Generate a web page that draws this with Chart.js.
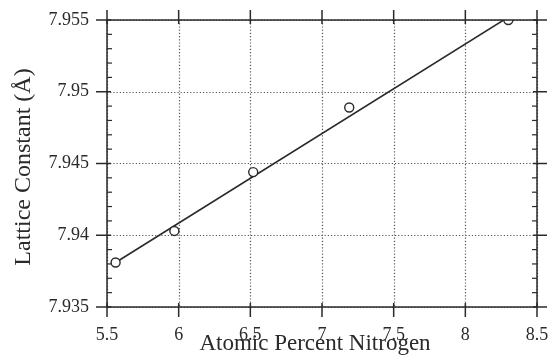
<!DOCTYPE html>
<html>
<head>
<meta charset="utf-8">
<script src="https://cdn.jsdelivr.net/npm/chart.js@4.4.1/dist/chart.umd.min.js"></script>
<style>
  html, body { margin: 0; padding: 0; background: #ffffff; }
  #wrap { width: 549px; height: 358px; }
</style>
</head>
<body>
<div id="wrap"><canvas id="c" width="549" height="358"></canvas></div>
<script>
// Measured lattice constants vs nitrogen content
const nitrogenPct = [5.56, 5.97, 6.52, 7.19, 8.30];
const latticeConst = [7.9381, 7.9403, 7.9444, 7.9489, 7.9550];

// Linear fit through the measurements
const fitX = [5.56, 8.30];
const fitY = [7.9381, 7.9552];

// Axis ranges and tick spacing
const xTicks = [5.5, 6, 6.5, 7, 7.5, 8, 8.5];
const yTicks = [7.935, 7.94, 7.945, 7.95, 7.955];
const yMinorStep = 0.001;

const xTitle = 'Atomic Percent Nitrogen';
const yTitle = 'Lattice Constant (Å)';

const INK = '#2a2a2a';
const SERIF = '"Liberation Serif", "DejaVu Serif", serif';

const frame = {
  id: 'frame',
  beforeDatasetsDraw(chart) {
    const { ctx, chartArea: a, scales: { x, y } } = chart;
    ctx.save();
    ctx.strokeStyle = '#555';
    ctx.lineWidth = 1.2;
    ctx.setLineDash([1.2, 2]);
    xTicks.forEach(v => {
      const px = Math.round(x.getPixelForValue(v)) + 0.5;
      ctx.beginPath(); ctx.moveTo(px, a.top); ctx.lineTo(px, a.bottom); ctx.stroke();
    });
    yTicks.forEach(v => {
      const py = Math.round(y.getPixelForValue(v)) + 0.5;
      ctx.beginPath(); ctx.moveTo(a.left, py); ctx.lineTo(a.right, py); ctx.stroke();
    });
    ctx.restore();
  },
  afterDatasetsDraw(chart) {
    const { ctx, chartArea: a, scales: { x, y } } = chart;
    ctx.save();
    ctx.strokeStyle = INK;
    ctx.lineWidth = 1.5;
    ctx.setLineDash([]);
    ctx.strokeRect(a.left, a.top, a.right - a.left, a.bottom - a.top);

    const line = (x1, y1, x2, y2) => { ctx.beginPath(); ctx.moveTo(x1, y1); ctx.lineTo(x2, y2); ctx.stroke(); };
    // major ticks crossing the frame
    xTicks.forEach(v => {
      const px = x.getPixelForValue(v);
      line(px, a.bottom + 10, px, a.bottom - 4);
      line(px, a.top - 10, px, a.top + 4);
    });
    yTicks.forEach(v => {
      const py = y.getPixelForValue(v);
      line(a.left - 11, py, a.left + 4, py);
      line(a.right + 10, py, a.right - 4, py);
    });
    // minor ticks on the vertical axes
    ctx.lineWidth = 1.2;
    const lo = yTicks[0], hi = yTicks[yTicks.length - 1];
    const n = Math.round((hi - lo) / yMinorStep);
    for (let i = 1; i < n; i++) {
      if (i % 5 === 0) continue;
      const py = y.getPixelForValue(lo + i * yMinorStep);
      line(a.left, py, a.left + 5, py);
      line(a.right, py, a.right - 5, py);
    }

    // axis titles
    ctx.fillStyle = INK;
    ctx.textAlign = 'center';
    ctx.textBaseline = 'alphabetic';
    ctx.font = '23px ' + SERIF;
    ctx.fillText(xTitle, 315, 350);
    ctx.font = '24px ' + SERIF;
    ctx.translate(30, 167);
    ctx.rotate(-Math.PI / 2);
    ctx.fillText(yTitle, 0, 0);
    ctx.restore();
  }
};

new Chart(document.getElementById('c'), {
  type: 'scatter',
  data: {
    datasets: [
      {
        label: 'measured',
        data: nitrogenPct.map((v, i) => ({ x: v, y: latticeConst[i] })),
        pointStyle: 'circle',
        pointRadius: 4.5,
        pointBorderWidth: 1.4,
        pointBorderColor: INK,
        pointBackgroundColor: '#ffffff',
        showLine: false
      },
      {
        label: 'fit',
        data: fitX.map((v, i) => ({ x: v, y: fitY[i] })),
        showLine: true,
        borderColor: INK,
        borderWidth: 1.6,
        pointRadius: 0,
        fill: false
      }
    ]
  },
  options: {
    responsive: false,
    animation: false,
    events: [],
    layout: { padding: { top: 20, right: 12, left: 0, bottom: 0 } },
    plugins: { legend: { display: false }, tooltip: { enabled: false } },
    scales: {
      x: {
        type: 'linear',
        min: 5.5, max: 8.5,
        afterFit(s) { s.height = 51; },
        afterBuildTicks(s) { s.ticks = xTicks.map(v => ({ value: v })); },
        grid: { display: false, drawTicks: true, tickLength: 17 },
        border: { display: false },
        ticks: {
          padding: 0,
          color: INK,
          font: { family: SERIF, size: 18 },
          callback: v => String(v)
        }
      },
      y: {
        type: 'linear',
        min: 7.935, max: 7.955,
        afterFit(s) { s.width = 107; },
        afterBuildTicks(s) { s.ticks = yTicks.map(v => ({ value: v })); },
        grid: { display: false, drawTicks: true, tickLength: 17 },
        border: { display: false },
        ticks: {
          padding: 1,
          color: INK,
          font: { family: SERIF, size: 18 },
          callback: v => String(v)
        }
      }
    }
  },
  plugins: [frame]
});
</script>
</body>
</html>
